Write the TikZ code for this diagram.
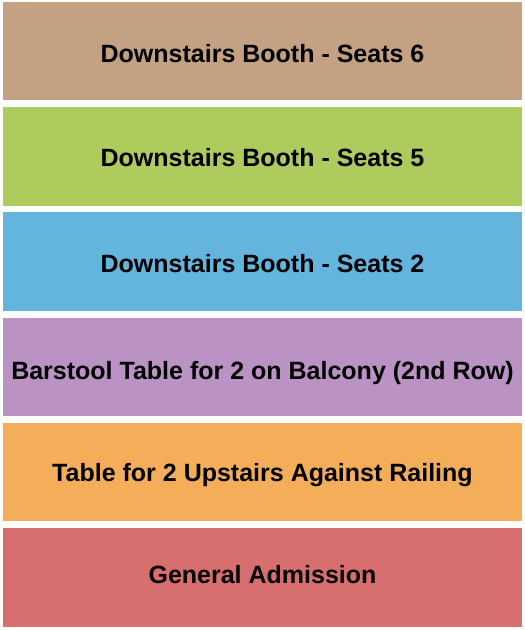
\documentclass[tikz,border=0pt]{standalone}
\usepackage{fontspec}
\setmainfont{Liberation Sans}
\usepackage{tikz}
\usetikzlibrary{positioning}
\definecolor{booth6}{RGB}{196,161,131}
\definecolor{booth5}{RGB}{174,203,94}
\definecolor{booth2}{RGB}{99,181,222}
\definecolor{balcony}{RGB}{186,146,196}
\definecolor{railing}{RGB}{244,174,90}
\definecolor{genadm}{RGB}{216,111,111}

\begin{document}
\begin{tikzpicture}[x=1bp,y=1bp,node distance=105.3bp]
\tikzset{section/.style={minimum width=519bp,minimum height=98.5bp,inner sep=0pt,
  text height=#1,text depth=2bp,font=\fontsize{25.1}{27}\selectfont\bfseries}}
\useasboundingbox (0,0) rectangle (525,-630);
\node [section=24.9bp,fill=booth6] at (262.5,-51) (seats6) {Downstairs Booth - Seats 6};
\node [section=23.3bp,fill=booth5,below of = seats6] (seats5) {Downstairs Booth - Seats 5};
\node [section=23.3bp,fill=booth2,below of = seats5] (seats2) {Downstairs Booth - Seats 2};
\node [section=26.9bp,fill=balcony,below of = seats2] (barstool) {Barstool Table for 2 on Balcony (2nd Row)};
\node [section=21.3bp,fill=railing,below of = barstool] (railing) {Table for 2 Upstairs Against Railing};
\node [section=13.9bp,fill=genadm,below of = railing] (ga) {General Admission};
\end{tikzpicture}
\end{document}
